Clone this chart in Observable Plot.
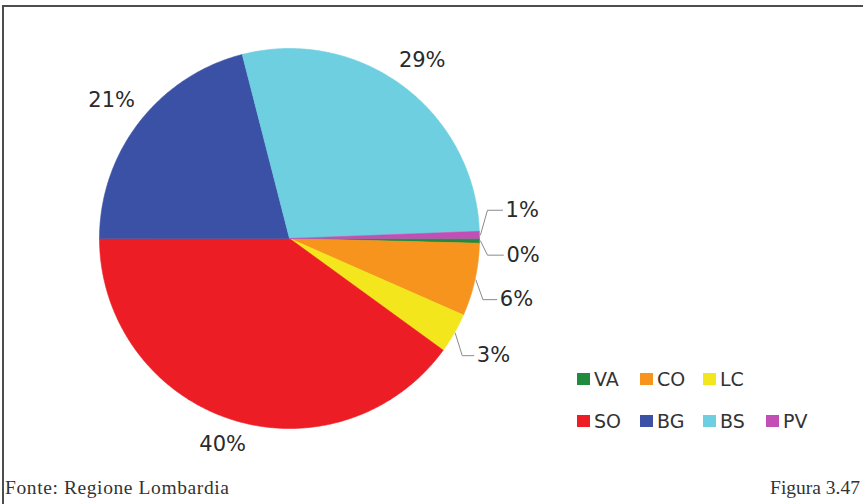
<!DOCTYPE html>
<html>
<head>
<meta charset="utf-8">
<script src="https://cdn.jsdelivr.net/npm/d3@7"></script>
<script src="https://cdn.jsdelivr.net/npm/@observablehq/plot@0.6"></script>
<style>
  html, body { margin: 0; padding: 0; background: #fff; }
  #frame { position: absolute; left: 2px; top: 5px; width: 900px; height: 600px;
           border-top: 2px solid #4d4d4d; border-left: 2px solid #4d4d4d; box-sizing: border-box; }
  #chart { position: absolute; left: 0; top: 0; }
  #legend { position: absolute; left: 577px; top: 358px; font-family: "DejaVu Sans"; font-size: 19px; color: #333; }
  .row { display: flex; height: 42px; align-items: center; }
  .item { width: 63px; display: flex; align-items: center; }
  .sw { width: 13px; height: 12px; margin-right: 4px; flex: none; }
  .foot { position: absolute; top: 477px; font-family: "Liberation Serif", serif; font-size: 19.5px; color: #333; }
</style>
</head>
<body>
<div id="frame"></div>
<div id="chart"></div>
<div id="legend"></div>
<div class="foot" style="left:5px; letter-spacing:0.6px">Fonte: Regione Lombardia</div>
<div class="foot" style="right:3px">Figura 3.47</div>
<script>
// ---- data ----
const names  = ["VA", "CO", "LC", "SO", "BG", "BS", "PV"];
const shares = [0.4, 6.2, 3.4, 40.0, 21.0, 28.4, 0.6];
const labels = ["0%", "6%", "3%", "40%", "21%", "29%", "1%"];
const colors = ["#1f8b3f", "#f7941e", "#f3e61c", "#ec1d25", "#3a51a5", "#6ecfe0", "#c24fb6"];
const legendRows = [["VA", "CO", "LC"], ["SO", "BG", "BS", "PV"]];

// ---- layout ----
const W = 863, H = 476, CX = 289, CY = 238, R = 190;
const FS = 21;
const TAU = 2 * Math.PI;

const arcs = d3.pie().sort(null)
  .startAngle(Math.PI / 2).endAngle(Math.PI / 2 + TAU)(shares);

// slice polygons in unit coordinates (y up)
const pts = [];
arcs.forEach((p, i) => {
  pts.push({name: names[i], x: 0, y: 0});
  const n = Math.max(2, Math.ceil((p.endAngle - p.startAngle) / 0.01));
  for (let k = 0; k <= n; k++) {
    const a = p.startAngle + (p.endAngle - p.startAngle) * k / n;
    pts.push({name: names[i], x: Math.sin(a), y: Math.cos(a)});
  }
});

// labels
const lab = arcs.map((p, i) => {
  const m = ((p.startAngle + p.endAngle) / 2) % TAU;
  return {name: names[i], text: labels[i], mid: m, ang: m, small: shares[i] < 10};
});
const smalls = lab.filter(d => d.small).sort((a, b) => a.mid - b.mid);
const minSep = 11 * Math.PI / 180;
for (let it = 0; it < 120; it++) {
  for (let j = 0; j < smalls.length - 1; j++) {
    const a = smalls[j], b = smalls[j + 1];
    const d = b.ang - a.ang;
    if (d < minSep) { const s = (minSep - d) / 2; a.ang -= s; b.ang += s; }
  }
}
const leaders = [];
lab.forEach(d => {
  const digits = d.text.length - 1;
  const hw = (digits * 0.636 + 0.95) * FS / 2;
  const hh = 0.36 * FS;
  const gap = d.small ? 27 : 12;
  const s = Math.sin(d.ang), c = Math.cos(d.ang);
  const rc = R + gap + Math.abs(s) * hw + Math.abs(c) * hh;
  d.px = rc * s; d.py = rc * c;          // px offsets, y up
  d.lx = d.px / R; d.ly = d.py / R;
  if (d.small) {
    const ax = R * Math.sin(d.mid), ay = R * Math.cos(d.mid);
    leaders.push({name: d.name, x: (ax + 1) / R, y: ay / R});
    leaders.push({name: d.name, x: (ax + 8) / R, y: d.py / R});
    leaders.push({name: d.name, x: (d.px - hw - 3) / R, y: d.py / R});
  }
});

const chart = Plot.plot({
  width: W, height: H, margin: 0,
  x: {domain: [-CX / R, (W - CX) / R], axis: null},
  y: {domain: [-(H - CY) / R, CY / R], axis: null},
  color: {domain: names, range: colors},
  marks: [
    Plot.line(pts, {x: "x", y: "y", z: "name", fill: "name", stroke: "name", strokeWidth: 0.6, curve: "linear-closed"}),
    Plot.line(leaders, {x: "x", y: "y", z: "name", stroke: "#8a8a8a", strokeWidth: 1}),
    Plot.text(lab, {x: "lx", y: "ly", text: "text", fontSize: FS, fill: "#2a2a2a", fontFamily: "DejaVu Sans"})
  ]
});
document.getElementById("chart").appendChild(chart);

// legend
const leg = document.getElementById("legend");
legendRows.forEach(row => {
  const r = document.createElement("div");
  r.className = "row";
  row.forEach(n => {
    const it = document.createElement("div");
    it.className = "item";
    const sw = document.createElement("span");
    sw.className = "sw";
    sw.style.background = colors[names.indexOf(n)];
    const t = document.createElement("span");
    t.textContent = n;
    it.appendChild(sw); it.appendChild(t);
    r.appendChild(it);
  });
  leg.appendChild(r);
});
</script>
</body>
</html>
